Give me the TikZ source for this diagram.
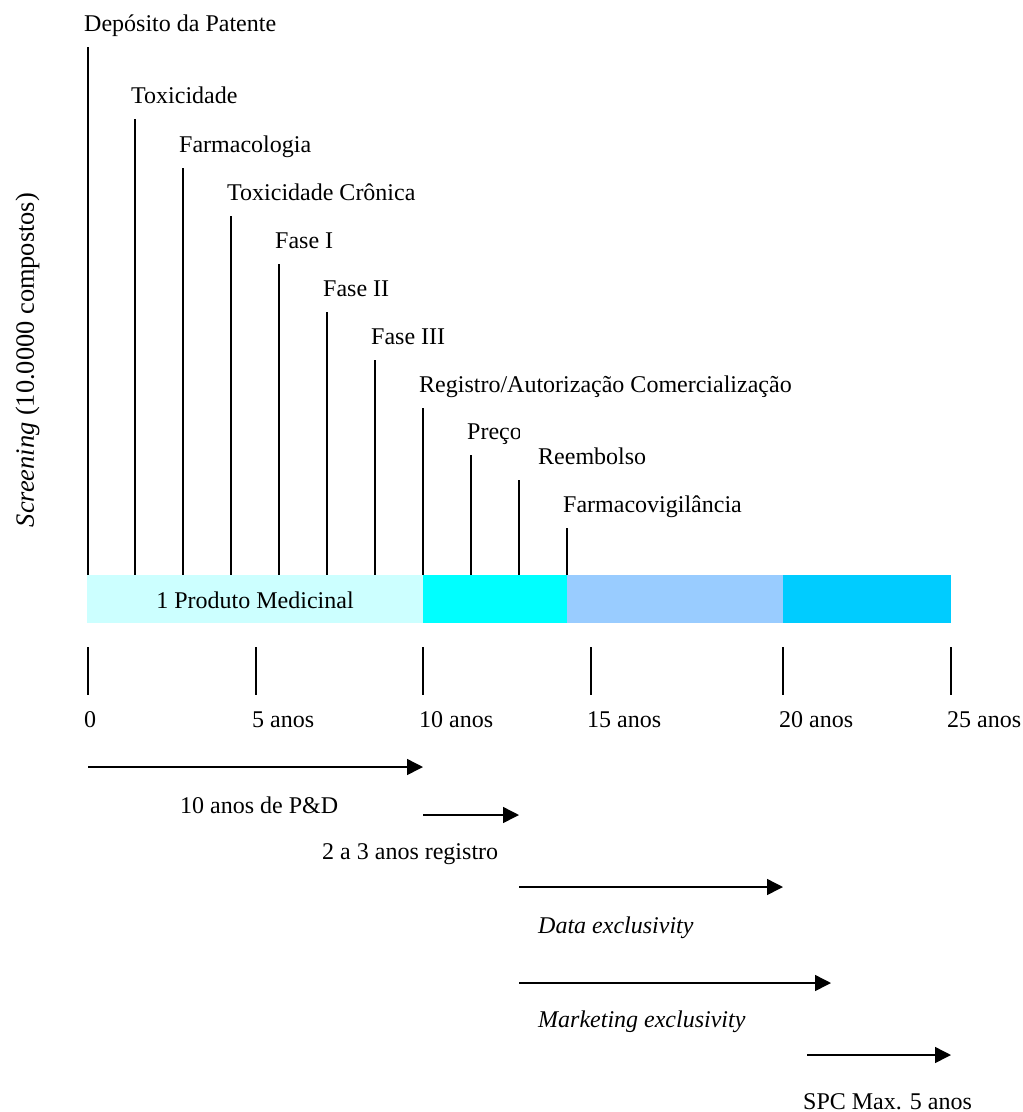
\documentclass[tikz,border=0pt]{standalone}
\usepackage{fontspec}
\setmainfont{Liberation Serif}
\usetikzlibrary{arrows.meta}
\begin{document}
\begin{tikzpicture}[x=1pt,y=-1pt,
  every node/.style={font=\fontsize{24}{28.8}\selectfont},
  milestone/.style={line width=1.5pt},
  tickmark/.style={line width=1.5pt},
  lbl/.style={anchor=base west,inner sep=0pt},
  period/.style={line width=1.5pt,-{Triangle[length=16pt,width=16pt]}},
  segment/.style={draw=none,inner sep=0pt,minimum height=48pt,anchor=north west}]
\useasboundingbox (0,0) rectangle (1023,1112);

% colours of the timeline bar
\definecolor{rdcol}{HTML}{CCFFFF}
\definecolor{regcol}{HTML}{00FFFF}
\definecolor{datacol}{HTML}{99CCFF}
\definecolor{spccol}{HTML}{00CCFF}

% timeline bar
\node[segment,fill=rdcol,minimum width=336pt] (s1) at (87,575) {};
\node[segment,fill=regcol,minimum width=144pt] (s2) at (423,575) {};
\node[segment,fill=datacol,minimum width=216pt] (s3) at (567,575) {};
\node[segment,fill=spccol,minimum width=168pt] (s4) at (783,575) {};
\node[anchor=base,inner sep=0pt] (prod) at (255,608) {1 Produto Medicinal};

% milestones: x / top of line / label x / label
\foreach \x/\t/\lx/\txt [count=\i] in {
  88/47/84/{Depósito da Patente},
  135/119/131/{Toxicidade},
  183/168/179/{Farmacologia},
  231/216/227/{Toxicidade Crônica},
  279/264/275/{Fase I},
  327/312/323/{Fase II},
  375/360/371/{Fase III},
  423/408/419/{Registro/Autorização Comercialização},
  519/480/538/{Reembolso},
  567/528/563/{Farmacovigilância}}{
  \coordinate (mt\i) at (\x,\t);
  \coordinate (mb\i) at (\x,575);
  \draw[milestone] (mt\i) -- (mb\i);
  \node[lbl] (ml\i) at (\lx,\t-16) {\txt};
}
% price milestone, its label cut off at the next line
\coordinate (pt) at (471,455);
\coordinate (pb) at (471,575);
\draw[milestone] (pt) -- (pb);
\begin{scope}
  \clip (455,410) rectangle (519,450);
  \node[lbl] (pl) at (467,439) {Preço};
\end{scope}

% vertical caption
\node[anchor=base,rotate=90,inner sep=0pt,font=\fontsize{26.4}{31}\selectfont] (scr) at (34,360)
  {\textit{Screening} (10.0000 compostos)};

% year ticks
\foreach \x/\txt [count=\i] in {88/0,256/5 anos,423/10 anos,591/15 anos,783/20 anos,951/25 anos}{
  \coordinate (tt\i) at (\x,647);
  \coordinate (tb\i) at (\x,695);
  \draw[tickmark] (tt\i) -- (tb\i);
  \node[lbl] (tl\i) at (\x-4,727) {\txt};
}

% protection periods
\coordinate (a1s) at (88,767);  \coordinate (a1e) at (423,767);
\coordinate (a2s) at (423,815); \coordinate (a2e) at (519,815);
\coordinate (a3s) at (519,887); \coordinate (a3e) at (783,887);
\coordinate (a4s) at (519,983); \coordinate (a4e) at (831,983);
\coordinate (a5s) at (807,1055); \coordinate (a5e) at (951,1055);
\draw[period] (a1s) -- (a1e);
\draw[period] (a2s) -- (a2e);
\draw[period] (a3s) -- (a3e);
\draw[period] (a4s) -- (a4e);
\draw[period] (a5s) -- (a5e);
\node[lbl] (p1) at (180,813) {10 anos de P\&D};
\node[lbl] (p2) at (322,859) {2 a 3 anos registro};
\node[lbl] (p3) at (538,933) {\textit{Data exclusivity}};
\node[lbl] (p4) at (538,1027) {\textit{Marketing exclusivity}};
\node[lbl] (p5) at (803,1109) {SPC Max. 5 anos};
\end{tikzpicture}
\end{document}
